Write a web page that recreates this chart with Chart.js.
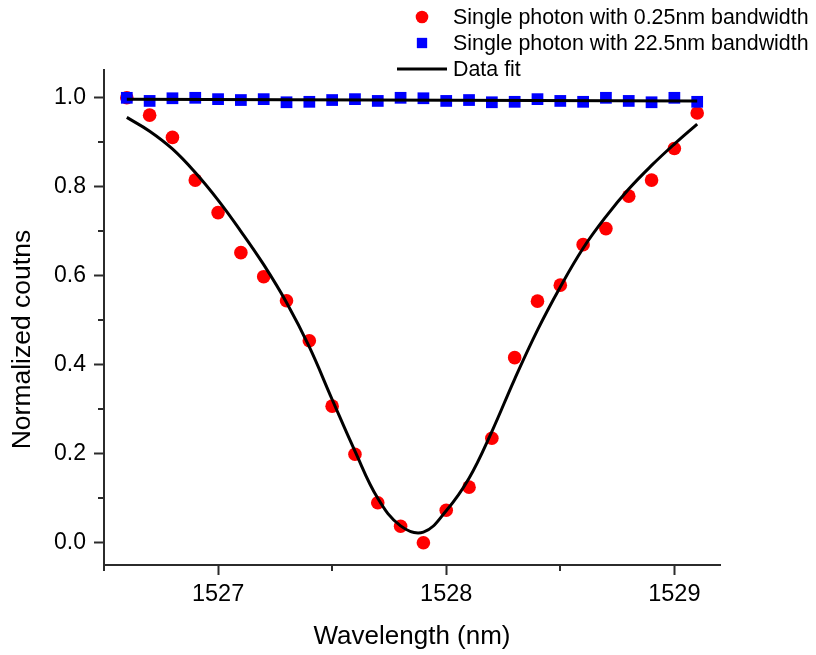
<!DOCTYPE html>
<html>
<head>
<meta charset="utf-8">
<title>Single photon counts vs wavelength</title>
<script src="https://cdn.jsdelivr.net/npm/chart.js@4.4.1/dist/chart.umd.min.js"></script>
<style>
  html, body { margin: 0; padding: 0; background: #fff; }
  #wrap { width: 816px; height: 655px; }
</style>
</head>
<body>
<div id="wrap"><canvas id="chart" width="816" height="655"></canvas></div>
<script>
// measured wavelengths (nm), same for both series
const wavelengths = [1526.6, 1526.7, 1526.8, 1526.9, 1527.0, 1527.1, 1527.2, 1527.3, 1527.4,
  1527.5, 1527.6, 1527.7, 1527.8, 1527.9, 1528.0, 1528.1, 1528.2, 1528.3, 1528.4, 1528.5,
  1528.6, 1528.7, 1528.8, 1528.9, 1529.0, 1529.1];

// normalized counts, 0.25nm filter (red dots)
const narrowCounts = [1.000, 0.961, 0.911, 0.815, 0.742, 0.652, 0.598, 0.544, 0.454,
  0.307, 0.199, 0.090, 0.037, 0.000, 0.073, 0.125, 0.235, 0.416, 0.543, 0.579,
  0.670, 0.706, 0.779, 0.815, 0.886, 0.966];

// normalized counts, 22.5nm filter (blue squares)
const wideCounts = [1.000, 0.993, 0.999, 1.000, 0.997, 0.995, 0.997, 0.990, 0.991,
  0.995, 0.997, 0.993, 1.000, 0.999, 0.993, 0.995, 0.990, 0.991, 0.997, 0.993,
  0.991, 1.000, 0.993, 0.990, 1.000, 0.991];

// fit curves
const narrowFitX = wavelengths;
const narrowFitY = [0.956, 0.925, 0.885, 0.832, 0.770, 0.700, 0.625, 0.540, 0.440,
  0.322, 0.206, 0.100, 0.038, 0.024, 0.072, 0.145, 0.250, 0.368, 0.478, 0.575,
  0.662, 0.733, 0.795, 0.848, 0.896, 0.941];
const wideFitX = [1526.6, 1529.1];
const wideFitY = [0.997, 0.993];

// axis ticks
const xTickValues = [1527, 1528, 1529];
const yTickLabels = ['0.0', '0.2', '0.4', '0.6', '0.8', '1.0'];

const seriesLabels = ['Single photon with 0.25nm bandwidth', 'Single photon with 22.5nm bandwidth', 'Data fit'];

const FONT = "'Liberation Sans', Arial, Helvetica, sans-serif";
const AXIS = '#2b2b2b';

const toPoints = (xs, ys) => xs.map((x, i) => ({ x: x, y: ys[i] }));

// short ticks half way between the labelled ones
const minorTicks = {
  id: 'minorTicks',
  afterDraw(chart) {
    const ctx = chart.ctx;
    ctx.save();
    ctx.strokeStyle = AXIS;
    ctx.lineWidth = 2;
    ['x', 'y'].forEach((id) => {
      const s = chart.scales[id];
      const vals = s.ticks.map((t) => t.value);
      const step = vals[1] - vals[0];
      for (let k = -1; k < vals.length; k++) {
        const v = vals[0] + step * (k + 0.5);
        if (v < s.min - 1e-9 || v > s.max + 1e-9) continue;
        const p = Math.round(s.getPixelForValue(v));
        ctx.beginPath();
        if (id === 'x') {
          ctx.moveTo(p, s.top);
          ctx.lineTo(p, s.top + 6);
        } else {
          ctx.moveTo(s.right, p);
          ctx.lineTo(s.right - 6, p);
        }
        ctx.stroke();
      }
    });
    ctx.restore();
  }
};

// legend stacked in the upper right, above the plot
const topLegend = {
  id: 'topLegend',
  afterDraw(chart, args, opts) {
    const ctx = chart.ctx;
    ctx.save();
    ctx.font = opts.fontSize + 'px ' + FONT;
    ctx.textBaseline = 'middle';
    ctx.textAlign = 'left';
    opts.rows.forEach((row) => {
      const ds = chart.data.datasets[row.dataset];
      if (row.line) {
        ctx.strokeStyle = ds.borderColor;
        ctx.lineWidth = ds.borderWidth;
        ctx.beginPath();
        ctx.moveTo(opts.markerX - 25, row.y);
        ctx.lineTo(opts.markerX + 25, row.y);
        ctx.stroke();
      } else {
        ctx.fillStyle = ds.backgroundColor;
        Chart.helpers.drawPoint(ctx, { pointStyle: ds.pointStyle, radius: row.radius, rotation: 0, borderWidth: 0 }, opts.markerX, row.y);
      }
      ctx.fillStyle = '#000';
      ctx.fillText(ds.label, opts.textX, row.y + 1);
    });
    ctx.restore();
  }
};

new Chart(document.getElementById('chart'), {
  type: 'scatter',
  data: {
    datasets: [
      {
        label: seriesLabels[0],
        data: toPoints(wavelengths, narrowCounts),
        backgroundColor: '#ff0000',
        borderWidth: 0,
        pointStyle: 'circle',
        pointRadius: 6.8,
        order: 3,
      },
      {
        label: seriesLabels[1],
        data: toPoints(wavelengths, wideCounts),
        backgroundColor: '#0000ff',
        borderWidth: 0,
        pointStyle: 'rect',
        pointRadius: 8.3,
        order: 2,
      },
      {
        label: seriesLabels[2],
        data: toPoints(narrowFitX, narrowFitY),
        showLine: true,
        borderColor: '#000',
        borderWidth: 3,
        pointRadius: 0,
        tension: 0.4,
        order: 1,
      },
      {
        label: seriesLabels[2],
        data: toPoints(wideFitX, wideFitY),
        showLine: true,
        borderColor: '#000',
        borderWidth: 3,
        pointRadius: 0,
        order: 1,
      },
    ],
  },
  options: {
    responsive: false,
    animation: false,
    events: [],
    layout: { padding: { top: 70, right: 96, left: 0, bottom: 0 } },
    plugins: {
      legend: { display: false },
      tooltip: { enabled: false },
      topLegend: {
        fontSize: 21.4,
        markerX: 422,
        textX: 453,
        rows: [
          { dataset: 0, y: 17, radius: 6.3 },
          { dataset: 1, y: 43, radius: 7.3 },
          { dataset: 2, y: 69, line: true },
        ],
      },
    },
    scales: {
      x: {
        type: 'linear',
        min: 1526.5,
        max: 1529.2,
        afterFit: (s) => { s.height = 90; },
        afterBuildTicks: (s) => { s.ticks = xTickValues.map((v) => ({ value: v })); },
        ticks: {
          font: { family: FONT, size: 23.5 },
          color: '#000',
          padding: 5,
          callback: (v) => String(v),
        },
        grid: { drawOnChartArea: false, tickLength: 10, tickWidth: 2, tickColor: AXIS },
        border: { color: AXIS, width: 2 },
        title: {
          display: true,
          text: 'Wavelength (nm)',
          font: { family: FONT, size: 26 },
          color: '#000',
          padding: { top: 0, bottom: 3 },
        },
      },
      y: {
        min: -0.05,
        max: 1.0625,
        afterFit: (s) => { s.width = 104; },
        afterBuildTicks: (s) => { s.ticks = yTickLabels.map((t) => ({ value: parseFloat(t) })); },
        ticks: {
          font: { family: FONT, size: 23 },
          color: '#000',
          padding: 8,
          callback: (v) => v.toFixed(1),
        },
        grid: { drawOnChartArea: false, tickLength: 10, tickWidth: 2, tickColor: AXIS },
        border: { color: AXIS, width: 2 },
        title: {
          display: true,
          text: 'Normalized coutns      ',
          font: { family: FONT, size: 26.5 },
          color: '#000',
          padding: { top: 7, bottom: 0 },
        },
      },
    },
  },
  plugins: [minorTicks, topLegend],
});
</script>
</body>
</html>
